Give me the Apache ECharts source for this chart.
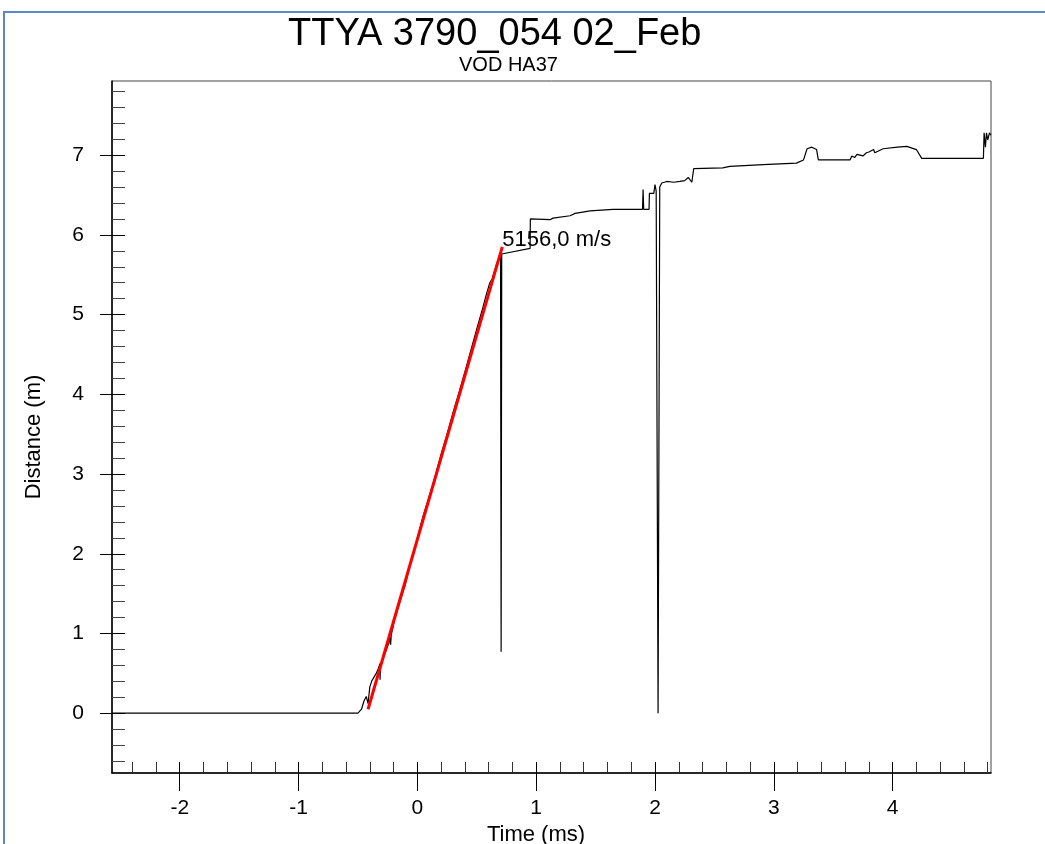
<!DOCTYPE html>
<html>
<head>
<meta charset="utf-8">
<script src="https://cdn.jsdelivr.net/npm/echarts@6/dist/echarts.min.js"></script>
<style>
  html, body { margin: 0; padding: 0; background: #fff; }
  #chart { width: 1045px; height: 844px; }
</style>
</head>
<body>
<div id="chart"></div>
<script>
// trace: time (ms) vs distance (m)
const timeMs = [
  -2.57, -0.50, -0.47, -0.45, -0.43, -0.415, -0.40, -0.385, -0.37, -0.35,
  -0.33, -0.316, -0.314, -0.31, -0.30, -0.285, -0.26, -0.24, -0.23, -0.225,
  -0.22, -0.19, -0.15, -0.10, -0.06, -0.04, -0.02, 0.00, 0.05, 0.10,
  0.15, 0.20, 0.25, 0.30, 0.35, 0.40, 0.45, 0.50, 0.55, 0.58,
  0.61, 0.63, 0.65, 0.67, 0.69, 0.700, 0.705, 0.710, 0.949, 0.951,
  1.117, 1.142, 1.285, 1.327, 1.454, 1.647, 1.895, 1.900, 1.905, 1.950,
  1.953, 1.990, 2.000, 2.010, 2.026, 2.040, 2.057, 2.099, 2.156, 2.21,
  2.25, 2.28, 2.31, 2.325, 2.326, 2.57, 2.63, 2.91, 3.19, 3.25,
  3.28, 3.32, 3.36, 3.375, 3.642, 3.656, 3.68, 3.70, 3.726, 3.75,
  3.78, 3.80, 3.84, 3.85, 3.92, 4.04, 4.12, 4.20, 4.245, 4.764,
  4.77, 4.781, 4.79, 4.80, 4.815, 4.828
];
const distanceM = [
  0, 0, 0.05, 0.15, 0.21, 0.12, 0.33, 0.40, 0.44, 0.49,
  0.55, 0.62, 0.42, 0.60, 0.63, 0.70, 0.80, 0.88, 0.95, 0.86,
  0.98, 1.18, 1.38, 1.62, 1.88, 1.98, 2.08, 2.20, 2.48, 2.72,
  2.97, 3.25, 3.50, 3.77, 4.02, 4.28, 4.55, 4.82, 5.08, 5.25,
  5.40, 5.45, 5.55, 5.65, 5.72, 5.75, 0.77, 5.76, 5.83, 6.20,
  6.19, 6.21, 6.24, 6.27, 6.30, 6.32, 6.32, 6.57, 6.32, 6.32,
  6.52, 6.52, 6.63, 6.55, 0.0, 6.60, 6.65, 6.67, 6.66, 6.67,
  6.68, 6.72, 6.66, 6.66, 6.83, 6.84, 6.86, 6.88, 6.90, 6.94,
  7.08, 7.10, 7.07, 6.94, 6.94, 6.99, 6.97, 7.01, 7.00, 6.99,
  7.03, 7.04, 7.07, 7.03, 7.08, 7.10, 7.11, 7.07, 6.96, 6.96,
  7.28, 7.10, 7.28, 7.19, 7.28, 7.25
];

// fitted velocity line
const fitTime = [-0.415, 0.715];
const fitDist = [0.05, 5.85];
const velocityLabel = '5156,0 m/s';

const xTickValues = [-2, -1, 0, 1, 2, 3, 4];
const yTickValues = [0, 1, 2, 3, 4, 5, 6, 7];

const xMin = -2.57, xMax = 4.828;
const yMin = -0.75, yMax = 7.93;

const myChart = echarts.init(document.querySelector('#chart'));

const font = '"Liberation Sans", Arial, sans-serif';

myChart.setOption({
  animation: false,
  backgroundColor: '#fff',
  title: [
    {
      text: 'TTYA 3790_054 02_Feb',
      left: 283, top: 11,
      textStyle: { fontFamily: font, fontSize: 38, fontWeight: 'normal', color: '#000' }
    },
    {
      text: 'VOD HA37',
      left: 454, top: 50,
      textStyle: { fontFamily: font, fontSize: 20, fontWeight: 'normal', color: '#000' }
    }
  ],
  graphic: [
    {
      type: 'rect',
      shape: { x: 4, y: 12, width: 1100, height: 900 },
      style: { fill: 'none', stroke: '#5b87c2', lineWidth: 2 },
      silent: true
    }
  ],
  grid: {
    left: 112, right: 54, top: 81, bottom: 71,
    show: true, borderColor: '#444', borderWidth: 1,
    containLabel: false,
    outerBoundsMode: 'none'
  },
  xAxis: [
    {
      type: 'value', min: xMin, max: xMax, minInterval: 1, maxInterval: 1,
      position: 'bottom',
      axisLine: { show: true, onZero: false, lineStyle: { color: '#000', width: 1.5 } },
      axisTick: { show: true, inside: true, length: 11, customValues: xTickValues, lineStyle: { color: '#000' } },
      minorTick: { show: true, splitNumber: 5, length: 11, lineStyle: { color: '#333' } },
      axisLabel: {
        customValues: xTickValues, margin: 25,
        fontFamily: font, fontSize: 21, color: '#000'
      },
      splitLine: { show: false },
      name: 'Time (ms)', nameLocation: 'middle', nameGap: 46,
      nameTextStyle: { fontFamily: font, fontSize: 22, color: '#000', padding: [0, 31, 0, 0] }
    },
    {
      type: 'value', min: xMin, max: xMax, minInterval: 1, maxInterval: 1,
      position: 'bottom',
      axisLine: { show: false, onZero: false },
      axisTick: { show: true, inside: false, length: 18, customValues: xTickValues, lineStyle: { color: '#000' } },
      axisLabel: { show: false },
      splitLine: { show: false }
    }
  ],
  yAxis: [
    {
      type: 'value', min: yMin, max: yMax, minInterval: 1, maxInterval: 1,
      position: 'left',
      axisLine: { show: true, onZero: false, lineStyle: { color: '#000', width: 1.5 } },
      axisTick: { show: true, inside: true, length: 13, customValues: yTickValues, lineStyle: { color: '#000' } },
      minorTick: { show: true, splitNumber: 5, length: 13, lineStyle: { color: '#444' } },
      axisLabel: {
        customValues: yTickValues, margin: 28,
        fontFamily: font, fontSize: 21, color: '#000'
      },
      splitLine: { show: false },
      name: 'Distance (m)', nameLocation: 'middle', nameGap: 67,
      nameTextStyle: { fontFamily: font, fontSize: 22, color: '#000', padding: [0, 20, 0, 0] }
    },
    {
      type: 'value', min: yMin, max: yMax, minInterval: 1, maxInterval: 1,
      position: 'left',
      axisLine: { show: false, onZero: false },
      axisTick: { show: true, inside: false, length: 12, customValues: yTickValues, lineStyle: { color: '#000' } },
      axisLabel: { show: false },
      splitLine: { show: false }
    }
  ],
  series: [
    {
      name: 'trace',
      type: 'line',
      xAxisIndex: 0, yAxisIndex: 0,
      data: timeMs.map((t, i) => [t, distanceM[i]]),
      showSymbol: false, symbol: 'none',
      lineStyle: { color: '#000', width: 1.2 },
      z: 2
    },
    {
      name: 'fit',
      type: 'line',
      xAxisIndex: 0, yAxisIndex: 0,
      data: fitTime.map((t, i) => [t, fitDist[i]]),
      showSymbol: false, symbol: 'none',
      lineStyle: { color: '#ff0000', width: 3 },
      endLabel: {
        show: true, formatter: velocityLabel, distance: 0, offset: [0, -7],
        fontFamily: font, fontSize: 22, color: '#000'
      },
      z: 3
    }
  ]
});
</script>
</body>
</html>
